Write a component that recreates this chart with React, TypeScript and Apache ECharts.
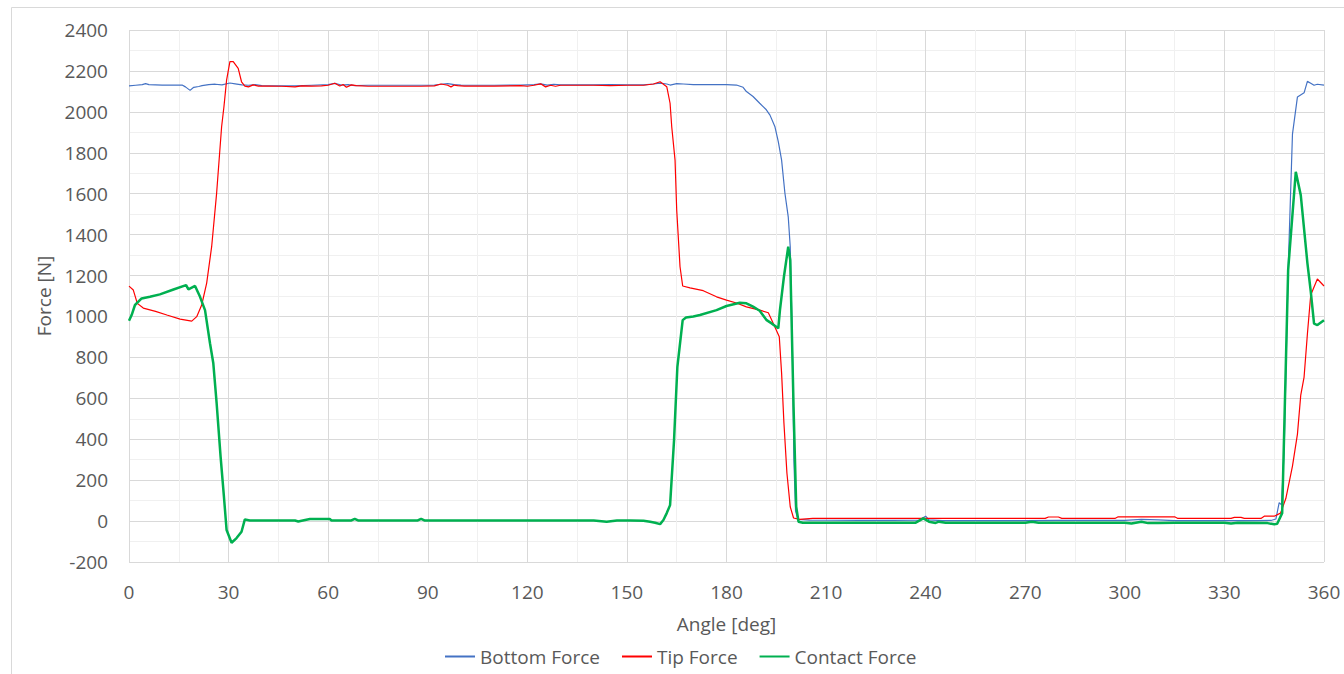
import React, { useEffect, useRef } from "react";
import * as echarts from "echarts";

const xTicks = [0, 30, 60, 90, 120, 150, 180, 210, 240, 270, 300, 330, 360];
const yTicks = [-200, 0, 200, 400, 600, 800, 1000, 1200, 1400, 1600, 1800, 2000, 2200, 2400];

const bottomAngle = [0, 2, 4, 5, 6, 10, 14, 16, 17, 18.4, 19.5, 21, 22, 24, 26, 28, 30.4, 32, 34, 36, 38, 40, 45, 50, 55, 60, 62, 64, 66, 68, 72, 80, 88, 92, 94, 96, 98, 100, 104, 110, 118, 122, 124, 126, 128, 130, 135, 140, 145, 150, 155, 158, 160, 162, 163, 165, 167, 170, 175, 180, 183, 185, 186, 188, 190, 192, 193.1, 194.6, 195.6, 196.6, 197.6, 198.6, 199.2, 199.8, 200.3, 200.8, 201.5, 205, 210, 220, 230, 238, 240, 241, 245, 260, 270, 280, 290, 300, 305, 310, 315, 330, 340, 344, 345.5, 346.5, 347.2, 348, 349.2, 350.5, 352, 354, 355, 356, 357, 358, 360];
const bottomForce = [2127, 2130, 2133, 2138, 2133, 2131, 2131, 2131, 2122, 2105, 2120, 2124, 2128, 2133, 2135, 2132, 2141, 2137, 2132, 2130, 2133, 2128, 2127, 2127, 2130, 2133, 2139, 2131, 2133, 2128, 2130, 2130, 2130, 2131, 2135, 2138, 2133, 2131, 2130, 2130, 2131, 2133, 2137, 2131, 2135, 2132, 2132, 2132, 2133, 2132, 2132, 2136, 2140, 2136, 2131, 2138, 2136, 2133, 2133, 2133, 2131, 2120, 2099, 2075, 2042, 2010, 1984, 1927, 1854, 1764, 1602, 1487, 1341, 900, 300, 50, 8, 5, 4, 3, 3, 5, 24, 6, 2, 2, 2, 3, 3, 3, 8, 6, 2, 2, 2, 3, 10, 90, 80, 350, 1227, 1891, 2073, 2093, 2149, 2140, 2130, 2135, 2131];

const tipAngle = [0, 1.3, 2.5, 4.3, 8, 11.4, 15.4, 18.9, 20.4, 21.9, 23.4, 24.9, 26.4, 27.9, 28.6, 29.4, 30.4, 31.4, 32.9, 33.9, 34.9, 36, 37.4, 39, 42, 46, 50, 52, 55, 58, 60, 62, 63.5, 64.5, 65.5, 67, 68.5, 72, 80, 88, 92, 94, 96, 97, 98, 99, 101, 110, 118, 120, 122, 124, 125.5, 127, 128.5, 130, 135, 140, 145, 150, 155, 158, 160, 162, 163, 163.5, 164.5, 165, 166, 166.8, 169, 173, 177, 180, 183, 186, 190, 192.6, 194.1, 195.9, 196.6, 197.3, 198.2, 199.2, 200.2, 202, 206, 210, 240, 260, 276, 277, 280, 281, 297, 298, 315, 316, 332, 333, 335, 336, 341, 342, 345, 346.9, 348.5, 350.5, 352, 353, 354, 355, 356, 358, 360];
const tipForce = [1148, 1129, 1064, 1041, 1025, 1007, 987, 977, 999, 1056, 1163, 1341, 1603, 1927, 2025, 2155, 2245, 2245, 2212, 2147, 2126, 2122, 2132, 2126, 2126, 2125, 2122, 2127, 2126, 2127, 2130, 2140, 2126, 2134, 2120, 2132, 2128, 2125, 2125, 2125, 2127, 2136, 2130, 2122, 2131, 2128, 2126, 2126, 2128, 2125, 2130, 2137, 2122, 2130, 2125, 2130, 2130, 2130, 2128, 2130, 2130, 2136, 2147, 2123, 2042, 1927, 1764, 1520, 1243, 1149, 1140, 1126, 1096, 1080, 1066, 1047, 1031, 1018, 966, 901, 723, 479, 235, 70, 15, 8, 13, 13, 13, 13, 13, 20, 20, 13, 13, 21, 21, 13, 13, 18, 18, 13, 13, 24, 24, 39, 110, 269, 425, 616, 704, 914, 1105, 1183, 1149];

const contactAngle = [0, 0.8, 1.8, 3.8, 6.3, 9.3, 13.4, 17.2, 17.9, 19.9, 21.4, 22.9, 24.4, 25.4, 26.4, 27.6, 28.6, 29.4, 30.9, 32.4, 33.9, 34.9, 36.4, 45, 50, 51, 52, 54.5, 60.5, 61, 67, 68, 69, 80, 87, 88, 89, 100, 120, 130, 140, 143.9, 147, 151, 155, 157, 158.5, 160, 161, 162, 163, 164.2, 165.2, 166.8, 167.8, 170, 172, 177, 180, 184, 186, 188, 190, 192.1, 193.6, 195.6, 196.1, 197.3, 198.6, 199.2, 200.2, 201, 201.7, 203, 220, 237, 239.3, 241, 243, 244, 246, 260, 270, 272, 274, 300, 302, 305, 307, 310, 315, 330, 332, 334, 343, 345, 345.9, 347.4, 349.2, 351.5, 353, 355, 356, 357, 358, 360];
const contactForce = [979, 1007, 1056, 1088, 1096, 1108, 1132, 1153, 1132, 1149, 1096, 1031, 869, 771, 576, 314, 119, -44, -106, -83, -52, 8, 3, 3, 3, -2, 2, 10, 10, 3, 3, 11, 3, 3, 3, 11, 3, 3, 3, 3, 3, -3, 3, 3, 2, -3, -8, -15, 5, 39, 78, 396, 754, 982, 995, 1000, 1007, 1031, 1051, 1067, 1064, 1048, 1028, 982, 966, 942, 1031, 1194, 1341, 1276, 559, 70, -3, -8, -8, -8, 13, -3, -9, -3, -8, -8, -8, -3, -8, -8, -12, -3, -10, -10, -8, -8, -12, -8, -10, -16, -13, 39, 1227, 1707, 1593, 1261, 1124, 965, 958, 982];

const seriesNames = ["Bottom Force", "Tip Force", "Contact Force"];

const pairs = (a: number[], v: number[]) => a.map((x, i) => [x, v[i]]);

export default function App() {
  const ref = useRef<HTMLDivElement>(null);
  useEffect(() => {
    if (!ref.current) return;
    const chart = echarts.init(ref.current, undefined, { renderer: "svg" });
    const font = "'Open Sans', 'Noto Sans', sans-serif";
    const txt = "#595959";
    const fs = 19;
    chart.setOption({
      animation: false,
      backgroundColor: "#ffffff",
      textStyle: { fontFamily: font },
      graphic: [
        {
          type: "rect",
          shape: { x: 11.5, y: 7.5, width: 1400, height: 700 },
          style: { fill: "none", stroke: "#D9D9D9", lineWidth: 1 },
          silent: true,
        },
      ],
      grid: { left: 129, right: 20, top: 30, bottom: 112, containLabel: false },
      legend: {
        left: 445,
        top: 647,
        padding: 0,
        itemWidth: 30,
        itemHeight: 14,
        itemGap: 22,
        itemTextGap: 4,
        icon: "path://M0,6L30,6L30,8L0,8Z",
        textStyle: { color: txt, fontSize: fs, fontFamily: font },
        data: seriesNames,
      },
      xAxis: {
        type: "value",
        min: xTicks[0],
        max: xTicks[xTicks.length - 1],
        interval: 30,
        name: "Angle [deg]",
        nameLocation: "middle",
        nameGap: 52,
        nameTextStyle: { color: txt, fontSize: fs, fontFamily: font },
        axisLine: { show: false },
        axisTick: { show: false },
        axisLabel: { color: txt, fontSize: fs, margin: 20, fontFamily: font, formatter: (v: number) => String(v) },
        splitLine: { show: true, lineStyle: { color: "#D9D9D9", width: 1 } },
        minorTick: { show: false, splitNumber: 2 },
        minorSplitLine: { show: true, lineStyle: { color: "#F0F0F0", width: 1 } },
      },
      yAxis: {
        type: "value",
        min: yTicks[0],
        max: yTicks[yTicks.length - 1],
        interval: 200,
        name: "Force [N]",
        nameLocation: "middle",
        nameGap: 74,
        nameRotate: 90,
        nameTextStyle: { color: txt, fontSize: fs, fontFamily: font },
        axisLine: { show: false },
        axisTick: { show: false },
        axisLabel: { color: txt, fontSize: fs, margin: 21, fontFamily: font, formatter: (v: number) => String(v) },
        splitLine: { show: true, lineStyle: { color: "#D9D9D9", width: 1 } },
        minorTick: { show: false, splitNumber: 2 },
        minorSplitLine: { show: true, lineStyle: { color: "#F0F0F0", width: 1 } },
      },
      series: [
        {
          name: seriesNames[0],
          type: "line",
          data: pairs(bottomAngle, bottomForce),
          symbol: "none",
          color: "#4472C4",
          lineStyle: { color: "#4472C4", width: 1.2 },
        },
        {
          name: seriesNames[1],
          type: "line",
          data: pairs(tipAngle, tipForce),
          symbol: "none",
          color: "#FF0000",
          lineStyle: { color: "#FF0000", width: 1.2 },
        },
        {
          name: seriesNames[2],
          type: "line",
          data: pairs(contactAngle, contactForce),
          symbol: "none",
          color: "#00B050",
          lineStyle: { color: "#00B050", width: 2.5 },
        },
      ],
    });
    return () => chart.dispose();
  }, []);
  return (
    <div
      ref={ref}
      style={{ position: "absolute", left: 0, top: 0, width: 1344, height: 674 }}
    />
  );
}
